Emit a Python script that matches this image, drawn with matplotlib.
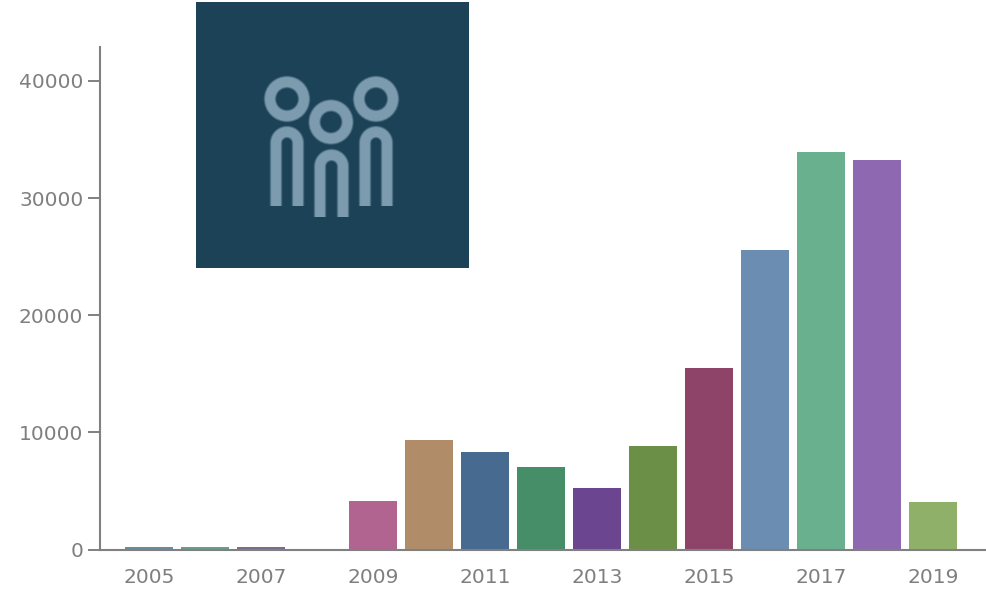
import numpy as np
import matplotlib
matplotlib.use("Agg")
import matplotlib.pyplot as plt
from matplotlib.patches import Circle

W, H = 986, 591

years = [2005, 2006, 2007, 2008, 2009, 2010, 2011, 2012, 2013, 2014, 2015, 2016, 2017, 2018, 2019]
counts = [200, 200, 200, 0, 4140, 9350, 8330, 7040, 5250, 8840, 15500, 25570, 33950, 33260, 4060]
colors = ["#6b8a9e", "#6b9e8a", "#7b6b8e", "#888888", "#b0648f", "#b08d68", "#466a90", "#468e68",
          "#6b4590", "#6c8f47", "#8e4468", "#6c8db2", "#68b08e", "#8e68b0", "#8eb068"]
y_ticks = [0, 10000, 20000, 30000, 40000]
x_ticks = [2005, 2007, 2009, 2011, 2013, 2015, 2017, 2019]

GREY = "#808080"
TEXT = "#7f7f7f"


def px_box(left, top, right, bottom):
    # figure fraction box from pixel edges
    return [left / W, 1 - bottom / H, (right - left) / W, (bottom - top) / H]


def draw_icon(fig):
    # the people icon that sits over the chart
    ax = fig.add_axes(px_box(196, 2, 469, 268), facecolor="#1c4257", zorder=5)
    ax.set_xlim(196, 469)
    ax.set_ylim(268, 2)
    ax.axis("off")
    ax.add_patch(plt.Rectangle((196, 2), 273, 266, color="#1c4257", lw=0))

    rings = [(287, 99, 17), (331, 122, 16.5), (376, 99, 17)]
    arches = [(276, 298, 132, 206), (320, 343, 155, 217), (365, 387, 132, 206)]

    # stacked strokes fake the soft edge of the blurry original
    for lw, col in [(9.2, "#37596e"), (8.2, "#587b90"), (7.0, "#7c9bae")]:
        for cx, cy, r in rings:
            ax.add_patch(Circle((cx, cy), r, fill=False, ec=col, lw=lw))
        for x0, x1, top, bottom in arches:
            r = (x1 - x0) / 2
            t = np.linspace(np.pi, 0, 40)
            xs = np.r_[x0, (x0 + x1) / 2 + r * np.cos(t), x1]
            ys = np.r_[bottom, top + r - r * np.sin(t), bottom]
            ax.plot(xs, ys, color=col, lw=lw, solid_capstyle="butt")


def main():
    fig = plt.figure(figsize=(W / 100, H / 100), dpi=100, facecolor="white")
    ax = fig.add_axes(px_box(100, 47, 986, 549.5))

    ax.bar(years, counts, width=48 / 56, color=colors, linewidth=0)

    ax.set_xlim(2004.125, 2019.946)
    ax.set_ylim(0, 42900)
    ax.set_xticks(x_ticks)
    ax.set_yticks(y_ticks)
    ax.tick_params(axis="x", length=0, pad=13.5, labelsize=14.5, labelcolor=TEXT)
    ax.tick_params(axis="y", length=8.5, width=1.4, color=GREY, pad=3.5, labelsize=14.5, labelcolor=TEXT)

    ax.spines["top"].set_visible(False)
    ax.spines["right"].set_visible(False)
    for s in ["left", "bottom"]:
        ax.spines[s].set_color(GREY)
        ax.spines[s].set_linewidth(1.5)

    draw_icon(fig)
    fig.savefig("out.png", dpi=100)


if __name__ == "__main__":
    main()
